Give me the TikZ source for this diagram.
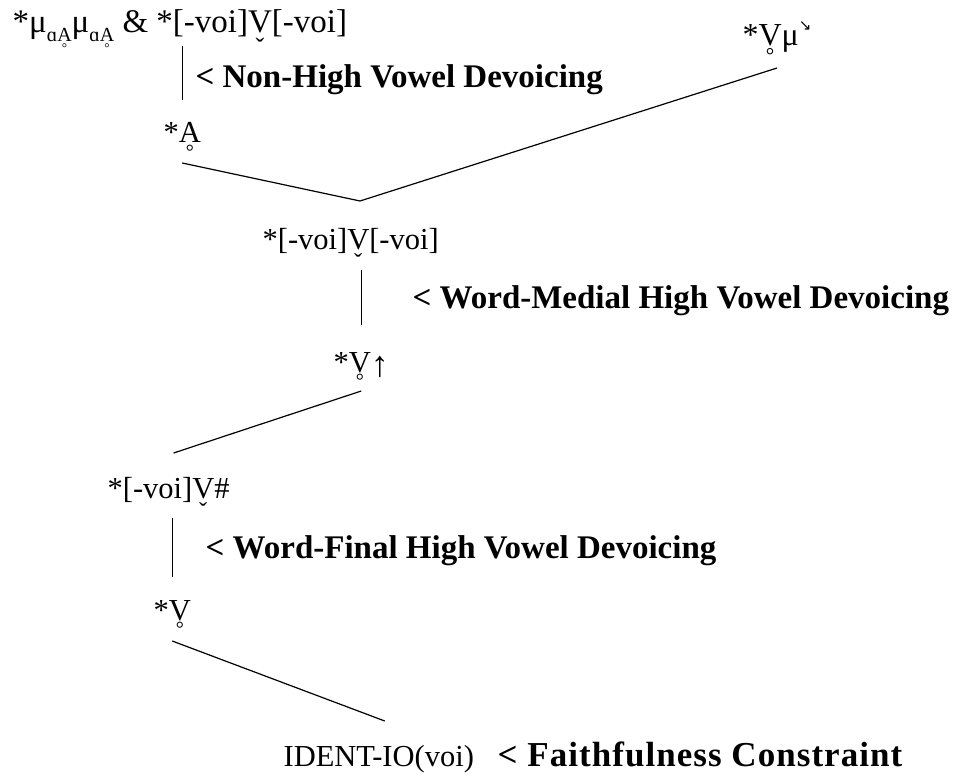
\documentclass[tikz,border=0pt]{standalone}
\usepackage{fontspec}
\setmainfont{Liberation Serif}
\newfontfamily\arrowfont{DejaVu Sans}
\usetikzlibrary{positioning}

% marks set below a letter
\newcommand{\ringb}[1]{\ooalign{#1\cr\hidewidth\raisebox{-0.52em}{\scalebox{0.66}{°}}\hidewidth\cr}}
\newcommand{\caronb}[1]{\ooalign{#1\cr\hidewidth\raisebox{-0.72em}{\scalebox{0.8}{ˇ}}\hidewidth\cr}}
\newcommand{\sublow}[1]{\raisebox{-9pt}{\fontsize{20}{22}\selectfont #1}}

\begin{document}
\begin{tikzpicture}[x=1pt,y=-1pt,line width=1.2pt,
    form/.style={anchor=base west,inner sep=0pt,font=\fontsize{30.5}{36}\selectfont},
    cons/.style={form,font=\fontsize{33}{38}\selectfont\bfseries}]
\useasboundingbox (0,0) rectangle (957,778);
\path
    ( 12, 33) node [form,font=\fontsize{33}{36}\selectfont] (conj)
              {*μ\sublow{ɑ\ringb{A}}μ\sublow{ɑ\ringb{A}} \& *[-voi]\caronb{V}[-voi]}
    (742, 46) node [form,font=\fontsize{32}{36}\selectfont] (vmu)
              {*\ringb{V}μ\raisebox{15pt}{\arrowfont\fontsize{15}{15}\selectfont ↘}}
    (163,143) node [form] (alow)   {*\ringb{A}}
    (262,249) node [form] (medial) {*[-voi]\caronb{V}[-voi]}
    (333,372) node [form] (vup)    {*\ringb{V}\raisebox{-4pt}{\fontsize{36}{36}\selectfont ↑}}
    (107,498) node [form] (final)  {*[-voi]\caronb{V}\#}
    (153,620) node [form] (vring)  {*\ringb{V}}
    (283,766) node [form] (ident)  {IDENT-IO(voi)};
\path
    (195, 88) node [cons] (nonhigh) {< Non-High Vowel Devoicing}
    (412,308) node [cons] (wmedial) {< Word-Medial High Vowel Devoicing}
    (205,558) node [cons] (wfinal)  {< Word-Final High Vowel Devoicing}
    (497,766) node [cons,font=\fontsize{35}{38}\selectfont\bfseries\addfontfeature{LetterSpace=3}] (faith)
              {< Faithfulness Constraint};
\coordinate (join) at (360,201);

\draw (alow.base)  ++(0,-43) -- ++(0,-54);
\draw (alow.base)  ++(0,20)  -- (join) -- ([yshift=-22pt]vmu.base);
\draw (vup.base)   ++(0,-47) -- ++(0,-55);
\draw (vup.base)   ++(0,19)  -- ([xshift=5pt,yshift=45pt]final.base);
\draw (vring.base) ++(0,-43) -- ++(0,-59);
\draw (vring.base) ++(0,21)  -- ([xshift=6pt,yshift=45pt]ident.base);
\end{tikzpicture}
\end{document}
